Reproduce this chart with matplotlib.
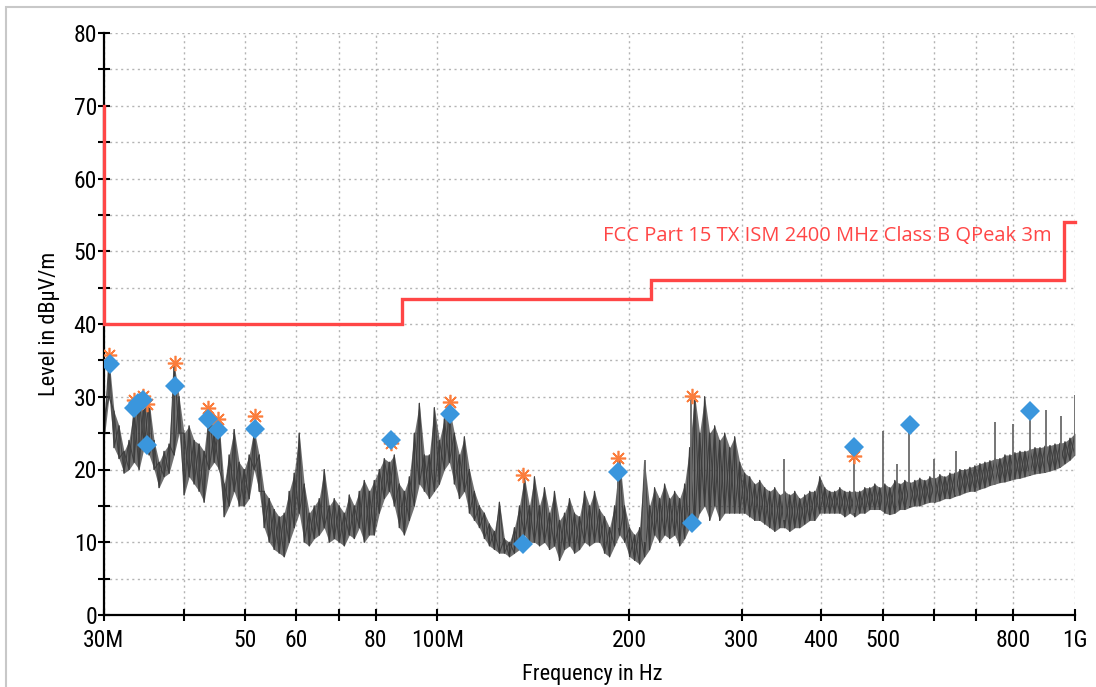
import numpy as np
import matplotlib

matplotlib.use("Agg")
import matplotlib.pyplot as plt
from matplotlib import font_manager
from matplotlib.patches import Rectangle
from matplotlib.ticker import FixedLocator, FixedFormatter, NullFormatter

plt.rcParams["font.family"] = ["Liberation Sans", "DejaVu Sans"]


def narrow_font():
    # axis text in the reference is a narrow Arial; pick any installed narrow/condensed sans
    wanted = ["Liberation Sans Narrow", "Arial Narrow", "Roboto Condensed", "Noto Sans Condensed",
              "DejaVu Sans Condensed", "Open Sans Condensed"]
    fonts = font_manager.fontManager.ttflist
    for name in wanted:
        for f in fonts:
            if f.name == name and f.weight in (400, "normal", "regular") and f.style == "normal":
                return font_manager.FontProperties(fname=f.fname)
    for f in fonts:
        if f.stretch in ("condensed", "semi-condensed") and f.style == "normal" and f.weight in (400, "normal"):
            if "Sans" in f.name or "Roboto" in f.name:
                return font_manager.FontProperties(fname=f.fname)
    return None


# ---- limit line (MHz, dBuV/m) ----
LIMIT_F = [30, 30, 88, 88, 216, 216, 960, 960, 1000]
LIMIT_L = [70, 40, 40, 43.5, 43.5, 46, 46, 54, 54]
LIMIT_NAME = "FCC Part 15 TX ISM 2400 MHz Class B QPeak 3m"

# ---- sweep trace, read as low/high envelope on a log-spaced sweep grid ----
SWEEP_START, SWEEP_STOP = 30.0, 1000.0
TRACE_LO = [
    24, 30, 23, 21.5, 19.5, 20, 21, 20, 23, 22,
    20, 17.5, 19, 19.5, 22, 25, 16.5, 19, 18, 17,
    15.5, 20, 21, 20, 13.5, 15, 17, 15, 15, 16,
    20, 17, 12, 10, 9, 8.5, 8, 10, 12, 14,
    10, 9.5, 10.5, 11, 12, 10, 10.5, 10, 9.5, 11,
    10.5, 12, 10, 11, 11, 14, 16, 17, 15, 12,
    11, 13, 15, 18, 17, 16, 17, 18, 20, 21,
    18, 16, 17, 14, 13, 12, 10.5, 9.5, 9, 8.5,
    8.5, 8, 8.5, 9, 11, 10, 10, 9.5, 10, 9,
    9.5, 7.5, 9, 9.5, 8.5, 9, 10, 9.5, 10, 10,
    8.5, 8, 9.5, 11, 10, 8, 7.5, 7, 8, 9,
    11, 10, 11, 10.5, 11, 9.5, 10.5, 12, 12, 14,
    15, 13, 15, 13, 14, 14, 14, 14, 14, 13.5,
    13, 13, 12.5, 12, 11.5, 12, 12, 11.5, 12, 12,
    12.5, 13, 13, 14, 14, 14, 14, 14, 13.5, 14,
    13.5, 14, 14, 14.5, 14.5, 14.5, 14, 13.8, 14, 14.5,
    14.5, 14.8, 15, 15, 15.3, 15.5, 15.5, 15.7, 16, 16,
    16.3, 16.5, 16.8, 17, 17, 17.3, 17.5, 17.8, 18, 18.2,
    18.3, 18.5, 18.7, 18.8, 19, 19.2, 19.4, 19.5, 19.6, 19.8,
    20, 20.3, 20.8, 21.3, 22,
]
TRACE_HI = [
    27, 35.3, 28, 26, 22.5, 24, 28.5, 30, 30, 29.5,
    24, 21, 22.5, 23.5, 34.6, 30, 25, 26, 24, 23.5,
    22.5, 28.5, 25, 26.3, 18, 22, 25.5, 21, 20, 22,
    25.5, 22, 17, 16, 14.5, 13.5, 14, 17, 19.5, 25,
    18, 14, 15, 16, 20, 15, 16, 15, 14, 16.5,
    15, 17, 18.5, 17, 18.5, 20, 21.5, 21, 22, 18,
    17, 19, 25, 29.1, 22, 22, 28.5, 24, 27, 28.5,
    25, 22, 24.5, 20, 17, 15, 14, 12.5, 11.5, 15.5,
    10.5, 10, 12, 15, 19, 15, 19, 15, 17.5, 14,
    17, 13, 14, 16, 14, 13.5, 17, 15, 17, 14.5,
    13.5, 12, 15, 21.5, 15, 12, 11, 12, 21, 15,
    17.5, 16, 18, 16, 17, 16, 18, 23, 30.2, 25,
    30, 25, 26, 24, 25, 23, 24.5, 21, 19.5, 19,
    18, 18.5, 17.5, 17, 17.5, 16.5, 17, 16.5, 17, 16,
    16.5, 17, 17, 19, 17.5, 17, 17, 17.5, 17, 17,
    17, 17, 17.5, 17.5, 18, 17.5, 18, 17.5, 18.5, 18,
    18.5, 18.2, 18.5, 18.8, 18.5, 19, 18.8, 19.3, 19, 19.5,
    19.5, 20, 20, 20.3, 20.5, 20.8, 21, 21.2, 21.5, 21.5,
    22, 22, 22.3, 22.5, 22.5, 22.8, 23, 23, 23.2, 23.3,
    23.5, 23.6, 23.8, 24.3, 25,
]

# narrow single-frequency lines standing out of the trace
SPIKE_F = [191.8, 211.7, 250, 350, 450, 500, 525, 550, 600, 650, 750, 800, 850, 900, 950, 1000]
SPIKE_BASE = [12, 10, 13, 13, 14, 14.5, 15, 15, 15.5, 16.5, 18, 18.5, 19.2, 19.6, 20.3, 22]
SPIKE_TOP = [21.6, 21.3, 30.2, 21.5, 22, 25.3, 20.7, 26, 21.5, 22.6, 26.5, 26.2, 28, 28.2, 27.3, 30.2]

# ---- peak (asterisk) and quasi-peak (diamond) results ----
PEAK_F = [30.6, 33.4, 34.5, 35.1, 38.8, 43.7, 45.3, 51.7, 84.6, 104.7, 136.1, 191.7, 251, 450]
PEAK_L = [35.7, 29.6, 30.1, 29.0, 34.6, 28.5, 27.0, 27.4, 23.7, 29.3, 19.2, 21.6, 30.15, 21.9]
QP_F = [30.65, 33.4, 33.9, 34.5, 35.1, 38.7, 43.6, 45.2, 51.8, 84.6, 104.8, 136.1, 191.7, 251, 450, 551, 850]
QP_L = [34.5, 28.5, 29.1, 29.6, 23.4, 31.5, 27.0, 25.4, 25.6, 24.1, 27.6, 9.8, 19.6, 12.7, 23.05, 26.1, 28.1]

XTICKS = [30, 40, 50, 60, 70, 80, 100, 200, 300, 400, 500, 600, 700, 800, 1000]
XTICK_LABELS = ["30M", "", "50", "60", "", "80", "100M", "200", "300", "400", "500", "", "", "800", "1G"]

RED = "#ff4646"
TRACE = "#3a3a3a"
BLUE = "#3a96dd"
ORANGE = "#fb7d3c"
GRID = "#b4b4b4"

fig = plt.figure(figsize=(10.96, 6.87), dpi=100)
fig.patches.append(Rectangle((6 / 1096, -0.1), 1.2, 1.1 - 7 / 687, transform=fig.transFigure,
                             fill=False, edgecolor="#c8c8c8", lw=1.5))
ax = fig.add_axes([104 / 1096, 1 - 615 / 687, 971 / 1096, 582 / 687])

freq = np.geomspace(SWEEP_START, SWEEP_STOP, len(TRACE_LO))
ax.fill_between(freq, TRACE_LO, TRACE_HI, color=TRACE, alpha=0.72, lw=0, zorder=2)
tx = np.repeat(freq, 2)
ax.plot(tx, np.column_stack([TRACE_LO, TRACE_HI]).ravel(), color=TRACE, lw=0.8, alpha=0.85, zorder=2)
ax.plot(tx, np.column_stack([TRACE_HI, TRACE_LO]).ravel(), color=TRACE, lw=0.8, alpha=0.85, zorder=2)
ax.vlines(SPIKE_F, SPIKE_BASE, SPIKE_TOP, color="#6a6a6a", lw=1.3, zorder=2)

ax.plot(LIMIT_F, LIMIT_L, color=RED, lw=2.4, zorder=4, clip_on=False, solid_joinstyle="miter")
ax.text(920, 52.1, LIMIT_NAME, color=RED, fontsize=14.5, family=["Open Sans"],
        ha="right", va="center", zorder=4)

ax.plot(PEAK_F, PEAK_L, ls="none", marker=(8, 2, 0), ms=11, mew=1.2, color=ORANGE, zorder=5)
ax.plot(QP_F, QP_L, ls="none", marker="D", ms=10, mew=0, color=BLUE, zorder=6)

ax.set_xscale("log")
ax.set_xlim(30, 1000)
ax.set_ylim(0, 80)
ax.xaxis.set_major_locator(FixedLocator(XTICKS))
ax.xaxis.set_major_formatter(FixedFormatter(XTICK_LABELS))
ax.xaxis.set_minor_locator(FixedLocator([]))
ax.xaxis.set_minor_formatter(NullFormatter())
ax.set_yticks(np.arange(0, 81, 10))
ax.set_yticks(np.arange(5, 80, 10), minor=True)

ax.grid(True, which="both", color=GRID, ls=(0, (1.5, 2.5)), lw=1.0)
ax.tick_params(which="both", direction="inout", length=8, width=1.5, colors="black")
ax.tick_params(axis="y", pad=1)
ax.tick_params(axis="x", pad=6)

for side in ("top", "right"):
    ax.spines[side].set_visible(False)
for side in ("left", "bottom"):
    ax.spines[side].set_linewidth(1.6)

ax.set_ylabel("Level in dBµV/m")
ax.set_xlabel("Frequency in Hz", va="bottom")
ax.yaxis.set_label_coords(-0.045, 0.5)
ax.xaxis.set_label_coords(0.503, -0.121)

fp = narrow_font()
narrow = fp is not None
if fp is None:
    fp = font_manager.FontProperties(family=["Liberation Sans"])
tick_size = 17 if narrow else 14.5
label_size = 16 if narrow else 14.5
for lab in ax.get_xticklabels() + ax.get_yticklabels():
    lab.set_fontproperties(fp)
    lab.set_fontsize(tick_size)
for lab in (ax.xaxis.label, ax.yaxis.label):
    lab.set_fontproperties(fp)
    lab.set_fontsize(label_size)

fig.savefig("out.png", dpi=100, facecolor="white")
